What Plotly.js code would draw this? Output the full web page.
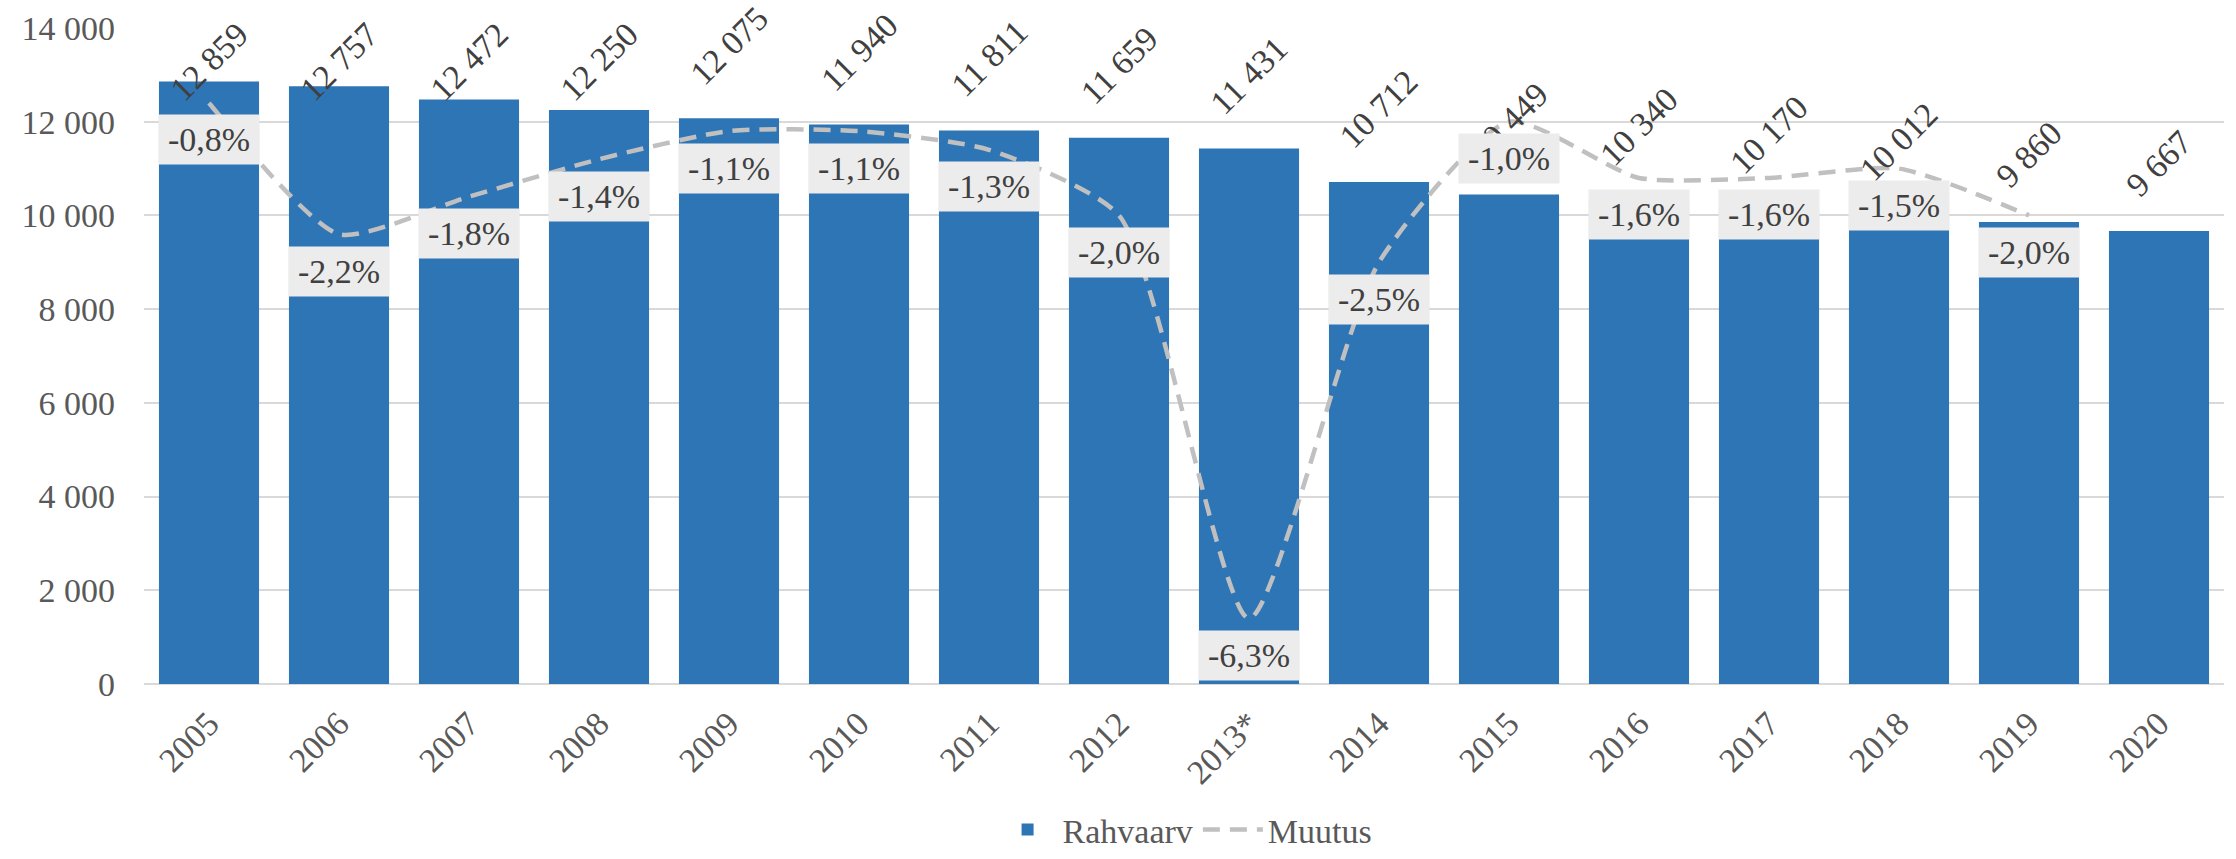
<!DOCTYPE html>
<html>
<head>
<meta charset="utf-8">
<script src="https://cdn.plot.ly/plotly-3.0.1.min.js"></script>
<style>
  html, body { margin: 0; padding: 0; background: #ffffff; }
  #chart { width: 2236px; height: 859px; }
</style>
</head>
<body>
<div id="chart"></div>
<script>
// ---- Data ----
const years = ['2005','2006','2007','2008','2009','2010','2011','2012','2013*','2014','2015','2016','2017','2018','2019','2020'];
const population = [12859, 12757, 12472, 12250, 12075, 11940, 11811, 11659, 11431, 10712, 10449, 10340, 10170, 10012, 9860, 9667];
const changeYears = ['2005','2006','2007','2008','2009','2010','2011','2012','2013*','2014','2015','2016','2017','2018','2019'];
const changePct = [-0.8, -2.2, -1.8, -1.4, -1.1, -1.1, -1.3, -2.0, -6.3, -2.5, -1.0, -1.6, -1.6, -1.5, -2.0];
const yTickVals = [0, 2000, 4000, 6000, 8000, 10000, 12000, 14000];

// ---- Formatting helpers ----
const fmtNum = v => String(v).replace(/\B(?=(\d{3})+(?!\d))/g, ' ');
const fmtPct = v => v.toFixed(1).replace('.', ',') + '%';

const FONT = 'Liberation Serif, Times New Roman, serif';
const BLUE = '#2e75b6';
const FS = 34;

const M = { l: 144, r: 12, t: 28, b: 175 };
const H = 859;
const plotH = H - M.t - M.b;
const yMax = 14000;
const pxPerUnit = plotH / yMax;

const traces = [
  {
    type: 'bar', name: 'Rahvaarv', x: years, y: population,
    marker: { color: BLUE }, hoverinfo: 'skip'
  },
  {
    type: 'scatter', mode: 'lines', name: 'Muutus', x: changeYears, y: changePct,
    yaxis: 'y2',
    line: { color: '#c0c0c0', width: 4.5, dash: '17px,10px', shape: 'spline', smoothing: 0.6 },
    hoverinfo: 'skip'
  }
];

const catIndex = name => years.indexOf(name);

const annotations = [];
// value labels above bars (kept inside the top of the chart like the source)
const labelGap = 24, labelH = 80, minTop = 12;
population.forEach((v, i) => {
  const barTopPx = M.t + (yMax - v) * pxPerUnit;
  const naturalTop = barTopPx - labelGap - labelH;
  const base = {
    x: catIndex(years[i]), xref: 'x', text: fmtNum(v), showarrow: false, textangle: -45,
    font: { family: FONT, size: FS, color: '#404040' }, xanchor: 'center'
  };
  if (naturalTop < minTop) {
    annotations.push(Object.assign(base, { yref: 'paper', y: 1, yanchor: 'top', yshift: M.t - minTop }));
  } else {
    annotations.push(Object.assign(base, { yref: 'y', y: v, yanchor: 'bottom', yshift: labelGap }));
  }
});
// percent labels below line points
changePct.forEach((v, i) => {
  annotations.push({
    x: catIndex(changeYears[i]), xref: 'x', y: v, yref: 'y2', text: fmtPct(v), showarrow: false,
    yanchor: 'middle', xanchor: 'center', yshift: -37,
    bgcolor: '#ececec', borderpad: 4, width: 92, height: 41,
    font: { family: FONT, size: FS, color: '#404040' }
  });
});

const layout = {
  width: 2236, height: 859,
  margin: M,
  paper_bgcolor: '#ffffff', plot_bgcolor: '#ffffff',
  font: { family: FONT, size: FS, color: '#595959' },
  bargap: 0.23,
  showlegend: true,
  legend: {
    orientation: 'h', xref: 'container', yref: 'container',
    x: 0.53, xanchor: 'center', y: 0.034, yanchor: 'middle',
    font: { family: FONT, size: FS, color: '#595959' }, itemwidth: 60
  },
  xaxis: {
    type: 'category', range: [-0.5, years.length - 0.5], tickangle: -45, showgrid: false, zeroline: false,
    showline: false, ticks: '', ticklabelstandoff: 12, automargin: false,
    tickfont: { family: FONT, size: FS, color: '#595959' }
  },
  yaxis: {
    range: [0, yMax], tickvals: yTickVals, ticktext: yTickVals.map(fmtNum),
    showgrid: true, gridcolor: '#d9d9d9', gridwidth: 2, zeroline: true,
    zerolinecolor: '#d9d9d9', zerolinewidth: 2, showline: false, ticks: '',
    ticklabelstandoff: 28, automargin: false,
    tickfont: { family: FONT, size: FS, color: '#595959' }
  },
  yaxis2: {
    overlaying: 'y', side: 'right', range: [-7, 0], visible: false, showgrid: false, zeroline: false
  },
  annotations: annotations
};

Plotly.newPlot('chart', traces, layout, { displayModeBar: false, staticPlot: true });
</script>
</body>
</html>
